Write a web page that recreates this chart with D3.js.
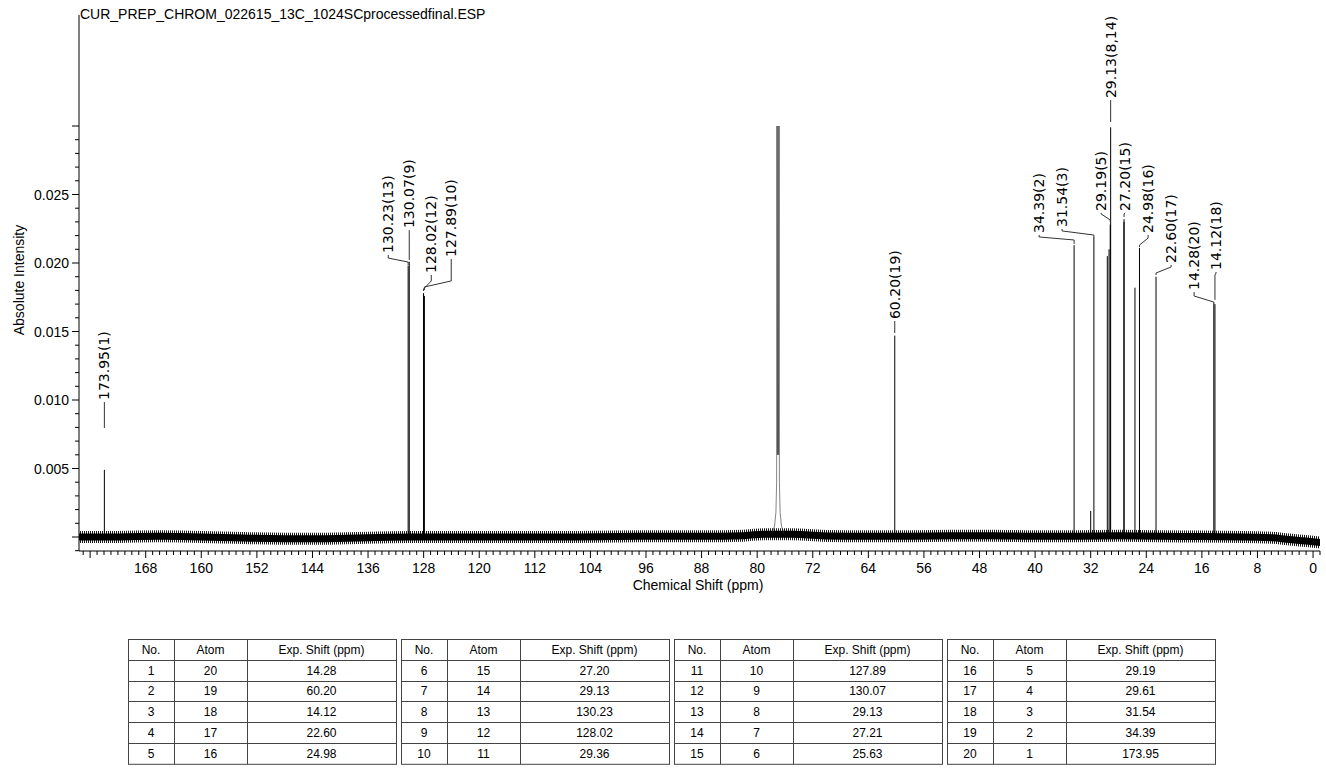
<!DOCTYPE html>
<html><head><meta charset="utf-8">
<script src="https://cdn.jsdelivr.net/npm/d3@7"></script>
<style>
body{margin:0;background:#fff;}
svg{display:block;font-family:"Liberation Sans",Arial,sans-serif;}
</style></head><body>
<svg id="c" width="1326" height="770"></svg>
<script>
// ---------------- data ----------------
const chartTitle = "CUR_PREP_CHROM_022615_13C_1024SCprocessedfinal.ESP";
const xTitle = "Chemical Shift (ppm)";
const yTitle = "Absolute Intensity";
const xTickLabels = [168,160,152,144,136,128,120,112,104,96,88,80,72,64,56,48,40,32,24,16,8,0];
const yTickLabels = [0.005,0.010,0.015,0.020,0.025];

// peak sticks (ppm, absolute intensity)
const peakShift  = [173.95,130.23,130.07,128.02,127.89,60.20,34.39,32.00,31.54,29.61,29.36,29.19,29.13,27.21,27.20,25.63,24.98,22.60,14.28,14.12];
const peakHeight = [0.0049,0.0198,0.0201,0.0178,0.0176,0.0147,0.0213,0.0019,0.0219,0.0205,0.0210,0.0228,0.0299,0.0230,0.0232,0.0182,0.0211,0.0190,0.0171,0.0170];

// CDCl3 solvent triplet profile
const solventShift  = [77.9,77.5,77.3,77.2,77.16,77.08,77.00,76.92,76.84,76.80,76.70,76.50,76.10];
const solventHeight = [0.0002,0.0008,0.0018,0.0040,0.0300,0.0060,0.0300,0.0060,0.0300,0.0040,0.0018,0.0008,0.0002];

// baseline drift (centre of the noise band)
const baseShift  = [177.6,172,166,160,154,148,142,136,130,124,118,112,106,100,94,88,82,79,75,70,64,58,52,46,40,34,28,22,16,10,6,3,1,-1];
const baseCenter = [0,0,0.00005,0,-0.00008,-0.00012,-0.00012,-0.00005,0,0,0,0,0,0.00003,0.00005,0.00005,0.0001,0.0002,0.0002,0.00008,0.00005,0.00005,0.0001,0.0001,0.00005,0.00005,0.0001,0.00005,0.00003,0,-0.00005,-0.0002,-0.0003,-0.0004];

// peak annotations
const labelText = ["173.95(1)","130.23(13)","130.07(9)","128.02(12)","127.89(10)","60.20(19)","34.39(2)","31.54(3)","29.19(5)","29.13(8,14)","27.20(15)","24.98(16)","22.60(17)","14.28(20)","14.12(18)"];
const labelPeak = [173.95,130.23,130.07,128.02,127.89,60.20,34.39,31.54,29.19,29.13,27.20,24.98,22.60,14.28,14.12];

// assignment table
const tableNo    = [1,2,3,4,5,6,7,8,9,10,11,12,13,14,15,16,17,18,19,20];
const tableAtom  = [20,19,18,17,16,15,14,13,12,11,10,9,8,7,6,5,4,3,2,1];
const tableShift = ["14.28","60.20","14.12","22.60","24.98","27.20","29.13","130.23","128.02","29.36","127.89","130.07","29.13","27.21","25.63","29.19","29.61","31.54","34.39","173.95"];
const tableHeader = ["No.","Atom","Exp. Shift (ppm)"];

// ---------------- annotation layout (data units) ----------------
// label x (ppm), text start, knee, elbow, leader end (intensity)
const labelLayout = [
  [173.95,0.01000,0.00971,0.00956,0.00796],
  [133.09,0.02073,0.02036,0.02007,0.01985],
  [130.07,0.02255,0.02226,0.02212,0.02022],
  [126.90,0.01927,0.01869,0.01810,0.01796],
  [124.03,0.02044,0.01869,0.01825,0.01803],
  [60.20 ,0.01591,0.01569,0.01555,0.01489],
  [39.42 ,0.02219,0.02190,0.02168,0.02139],
  [36.12 ,0.02263,0.02234,0.02204,0.02190],
  [30.50 ,0.02380,0.02358,0.02314,0.02299],
  [29.13 ,0.03204,0.03182,0.03168,0.03029],
  [27.05 ,0.02380,0.02365,0.02358,0.02336],
  [23.74 ,0.02219,0.02182,0.02131,0.02117],
  [20.43 ,0.02000,0.01971,0.01927,0.01912],
  [17.12 ,0.01803,0.01759,0.01715,0.01708],
  [13.96 ,0.01949,0.01927,0.01912,0.01730]
];

// ---------------- drawing ----------------
const svg = d3.select("#c");
const x = d3.scaleLinear().domain([177.6,-1.0]).range([79,1320]);
const y = d3.scaleLinear().domain([0,0.03]).range([537,126]);

const defs = svg.append("defs");
defs.append("pattern").attr("id","comb").attr("width",2).attr("height",40)
  .attr("patternUnits","userSpaceOnUse")
  .append("rect").attr("x",0).attr("y",0).attr("width",1).attr("height",40).attr("fill","#1a1a1a");

const base = baseShift.map((s,i)=>({s,c:baseCenter[i]}));
const bandOuter = d3.area().x(d=>x(d.s)).y0(d=>y(d.c)+6).y1(d=>y(d.c)-6).curve(d3.curveMonotoneX);
const bandInner = d3.area().x(d=>x(d.s)).y0(d=>y(d.c)+3.5).y1(d=>y(d.c)-3.5).curve(d3.curveMonotoneX);
svg.append("path").attr("d",bandOuter(base)).attr("fill","url(#comb)");
svg.append("path").attr("d",bandInner(base)).attr("fill","#000");

// solvent
const solv = solventShift.map((s,i)=>({s,h:solventHeight[i]}));
svg.append("path").attr("d",d3.line().x(d=>x(d.s)).y(d=>y(d.h))(solv))
  .attr("fill","none").attr("stroke","#333").attr("stroke-width",0.6);

// peaks
svg.append("g").selectAll("line").data(peakShift).join("line")
  .attr("x1",d=>x(d)).attr("x2",d=>x(d))
  .attr("y1",y(0)).attr("y2",(d,i)=>y(peakHeight[i]))
  .attr("stroke","#000").attr("stroke-width",1);

// annotations
const ann = svg.append("g");
labelText.forEach((t,i)=>{
  const L = labelLayout[i];
  const lx = x(L[0]), px = x(labelPeak[i]);
  const pts = [[lx,y(L[1])+2],[lx,y(L[2])],[px,y(L[3])],[px,y(L[4])]];
  ann.append("path").attr("d",d3.line()(pts)).attr("fill","none")
    .attr("stroke","#333").attr("stroke-width",1);
  ann.append("text").attr("transform",`translate(${lx},${y(L[1])}) rotate(-90)`)
    .attr("dy","0.36em").attr("font-size",14)
    .attr("font-family","'DejaVu Sans',Verdana,sans-serif").attr("fill","#000").text(t);
});

// y axis
const yAx = svg.append("g");
yAx.append("line").attr("x1",79).attr("x2",79).attr("y1",15).attr("y2",551).attr("stroke","#000");
const yMinor = d3.range(-1,31).map(k=>k/1000);
yAx.selectAll("line.t").data(yMinor).join("line").attr("class","t")
  .attr("x1",d=> Math.round(d*1000)%5===0 ? 72 : 75).attr("x2",79)
  .attr("y1",d=>y(d)).attr("y2",d=>y(d)).attr("stroke","#000");
yAx.selectAll("text").data(yTickLabels).join("text")
  .attr("x",69).attr("y",d=>y(d)).attr("dy","0.36em").attr("text-anchor","end")
  .attr("font-size",14).text(d=>d3.format(".3f")(d));
svg.append("text").attr("transform","translate(19,280) rotate(-90)")
  .attr("text-anchor","middle").attr("dy","0.36em").attr("font-size",14).text(yTitle);

// x axis
const xAx = svg.append("g");
xAx.append("line").attr("x1",79).attr("x2",1320).attr("y1",551).attr("y2",551).attr("stroke","#000");
const xMinor = d3.range(-1,178);
xAx.selectAll("line.t").data(xMinor).join("line").attr("class","t")
  .attr("x1",d=>x(d)).attr("x2",d=>x(d)).attr("y1",551)
  .attr("y2",d=> d%8===0 ? 558 : 555).attr("stroke","#000");
xAx.selectAll("text").data(xTickLabels).join("text")
  .attr("x",d=>x(d)).attr("y",573).attr("text-anchor","middle").attr("font-size",14).text(d=>d);
svg.append("text").attr("x",698).attr("y",590).attr("text-anchor","middle").attr("font-size",14).text(xTitle);

// title
svg.append("text").attr("x",80).attr("y",19).attr("font-size",14).text(chartTitle);

// tables
const tLeft0 = 128, tPitch = 273, colW = [46,73,149], rowH = 20.8, tTop = 639;
const tW = d3.sum(colW);
for (let t=0;t<4;t++){
  const g = svg.append("g").attr("transform",`translate(${tLeft0+t*tPitch},${tTop})`);
  const rows = [tableHeader].concat(d3.range(5).map(r=>{
    const k = t*5+r; return [tableNo[k],tableAtom[k],tableShift[k]];
  }));
  g.append("rect").attr("x",0.5).attr("y",0.5).attr("width",tW).attr("height",rowH*6)
    .attr("fill","none").attr("stroke","#444");
  for (let r=1;r<6;r++) g.append("line").attr("x1",0.5).attr("x2",tW+0.5)
    .attr("y1",Math.round(r*rowH)+0.5).attr("y2",Math.round(r*rowH)+0.5).attr("stroke","#444");
  let cx = 0;
  colW.forEach((w,c)=>{
    if (c>0) g.append("line").attr("x1",cx+0.5).attr("x2",cx+0.5).attr("y1",0.5).attr("y2",rowH*6+0.5).attr("stroke","#444");
    rows.forEach((row,r)=>{
      g.append("text").attr("x",cx+w/2).attr("y",r*rowH+rowH/2).attr("dy","0.36em")
        .attr("text-anchor","middle").attr("font-size",12).text(row[c]);
    });
    cx += w;
  });
}
</script>
</body></html>
